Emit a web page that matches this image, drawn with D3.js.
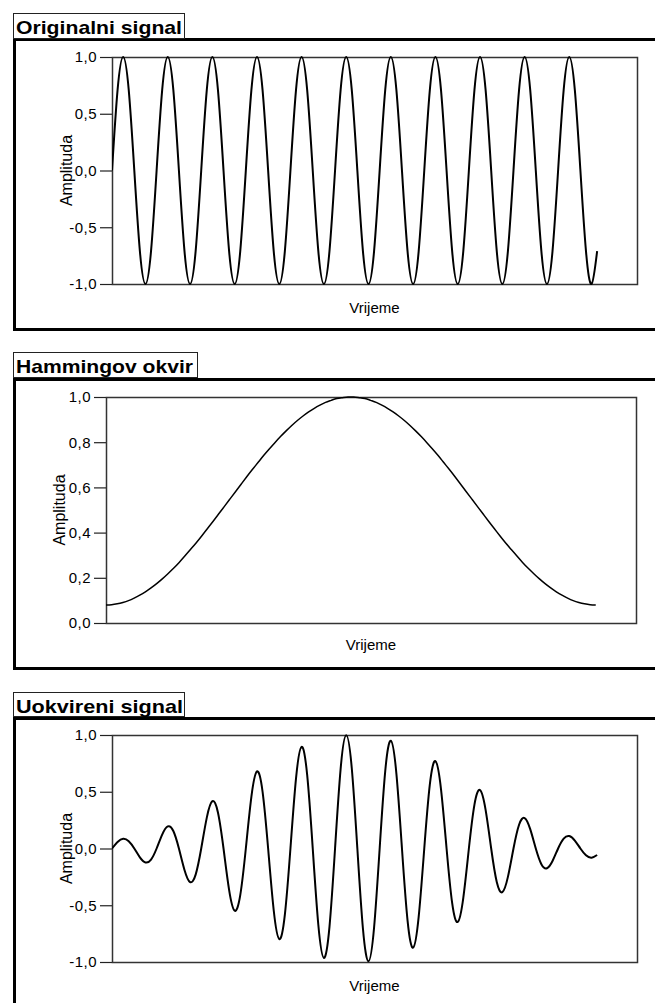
<!DOCTYPE html>
<html>
<head>
<meta charset="utf-8">
<script src="https://cdn.jsdelivr.net/npm/d3@7"></script>
<style>
  body { margin: 0; background: #fff; }
  svg { display: block; }
  text { font-family: "Liberation Sans", Arial, sans-serif; fill: #000; }
</style>
</head>
<body>
<div id="chart"></div>
<script>
// Samples (45 degree steps of the carrier)
const originalSignal = [
  0, 0.71, 1, 0.71, 0, -0.71, -1, -0.71,
  0, 0.71, 1, 0.71, 0, -0.71, -1, -0.71,
  0, 0.71, 1, 0.71, 0, -0.71, -1, -0.71,
  0, 0.71, 1, 0.71, 0, -0.71, -1, -0.71,
  0, 0.71, 1, 0.71, 0, -0.71, -1, -0.71,
  0, 0.71, 1, 0.71, 0, -0.71, -1, -0.71,
  0, 0.71, 1, 0.71, 0, -0.71, -1, -0.71,
  0, 0.71, 1, 0.71, 0, -0.71, -1, -0.71,
  0, 0.71, 1, 0.71, 0, -0.71, -1, -0.71,
  0, 0.71, 1, 0.71, 0, -0.71, -1, -0.71,
  0, 0.71, 1, 0.71, 0, -0.71, -1, -0.71
];

const hammingWindow = [
  0.080, 0.081, 0.085, 0.091, 0.099, 0.110, 0.123, 0.138,
  0.155, 0.174, 0.195, 0.218, 0.242, 0.268, 0.296, 0.325,
  0.354, 0.385, 0.417, 0.449, 0.482, 0.515, 0.548, 0.581,
  0.614, 0.647, 0.679, 0.710, 0.741, 0.770, 0.798, 0.825,
  0.850, 0.874, 0.896, 0.916, 0.934, 0.950, 0.964, 0.976,
  0.985, 0.993, 0.997, 1.000, 1.000, 0.997, 0.993, 0.985,
  0.976, 0.964, 0.950, 0.934, 0.916, 0.896, 0.874, 0.850,
  0.825, 0.798, 0.770, 0.741, 0.710, 0.679, 0.647, 0.614,
  0.581, 0.548, 0.515, 0.482, 0.449, 0.417, 0.385, 0.354,
  0.325, 0.296, 0.268, 0.242, 0.218, 0.195, 0.174, 0.155,
  0.138, 0.123, 0.110, 0.099, 0.091, 0.085, 0.081, 0.080
];

const framedSignal = [
  0, 0.057, 0.085, 0.064, 0, -0.078, -0.123, -0.098,
  0, 0.123, 0.195, 0.154, 0, -0.189, -0.296, -0.230,
  0, 0.272, 0.417, 0.317, 0, -0.364, -0.548, -0.411,
  0, 0.457, 0.679, 0.502, 0, -0.544, -0.798, -0.583,
  0, 0.618, 0.896, 0.648, 0, -0.672, -0.964, -0.690,
  0, 0.702, 0.997, 0.707, 0, -0.705, -0.993, -0.696,
  0, 0.682, 0.950, 0.660, 0, -0.633, -0.874, -0.601,
  0, 0.564, 0.770, 0.524, 0, -0.480, -0.647, -0.434,
  0, 0.387, 0.515, 0.341, 0, -0.295, -0.385, -0.250,
  0, 0.209, 0.268, 0.171, 0, -0.138, -0.174, -0.110,
  0, 0.087, 0.110, 0.070, 0, -0.060, -0.081, -0.057
];

const amplitudeTicks = [-1, -0.5, 0, 0.5, 1];
const windowTicks = [0, 0.2, 0.4, 0.6, 0.8, 1];

const panelTitles = ["Originalni signal", "Hammingov okvir", "Uokvireni signal"];
const xAxisTitle = "Vrijeme";
const yAxisTitle = "Amplituda";

const width = 655;
const height = 1003;
const xMax = 94.15; // axis runs a bit past the last sample

const hr = d3.formatLocale({ decimal: ",", thousands: ".", grouping: [3], currency: ["", ""], minus: "-" });
const tickFormat = hr.format(".1f");

const svg = d3.select("#chart")
  .append("svg")
  .attr("width", width)
  .attr("height", height);

const panels = [
  { title: panelTitles[0], values: originalSignal, ticks: amplitudeTicks, yDomain: [-1, 1],
    box: { x: 13.5, y: 13.5, w: 171, h: 25, textW: 166, base: 34 },
    frameTop: 38, frameBottom: 328,
    plot: { left: 112, top: 57, right: 637, bottom: 284 }, xLabelY: 313, yLabelX: 72, stroke: 2 },
  { title: panelTitles[1], values: hammingWindow, ticks: windowTicks, yDomain: [0, 1],
    box: { x: 13.5, y: 352.5, w: 184, h: 25, textW: 177, base: 373 },
    frameTop: 378, frameBottom: 667,
    plot: { left: 106, top: 397, right: 636, bottom: 623 }, xLabelY: 650, yLabelX: 65, stroke: 1.5 },
  { title: panelTitles[2], values: framedSignal, ticks: amplitudeTicks, yDomain: [-1, 1],
    box: { x: 13.5, y: 692.5, w: 171, h: 24, textW: 167, base: 713 },
    frameTop: 717, frameBottom: null,
    plot: { left: 112, top: 735, right: 637, bottom: 962 }, xLabelY: 991, yLabelX: 72, stroke: 2 }
];

panels.forEach((p, idx) => {
  const g = svg.append("g");

  // heavy outer frame
  g.append("rect")
    .attr("x", 13).attr("y", p.frameTop)
    .attr("width", width - 13).attr("height", 3)
    .attr("fill", "#000");
  const frameEnd = p.frameBottom === null ? height : p.frameBottom + 3;
  g.append("rect")
    .attr("x", 13).attr("y", p.frameTop)
    .attr("width", 3).attr("height", frameEnd - p.frameTop)
    .attr("fill", "#000");
  if (p.frameBottom !== null) {
    g.append("rect")
      .attr("x", 13).attr("y", p.frameBottom)
      .attr("width", width - 13).attr("height", 3)
      .attr("fill", "#000");
  }

  // title tab
  g.append("rect")
    .attr("x", p.box.x).attr("y", p.box.y)
    .attr("width", p.box.w).attr("height", p.box.h)
    .attr("fill", "#fff")
    .attr("stroke", "#222")
    .attr("stroke-width", 1);
  g.append("text")
    .attr("x", 16).attr("y", p.box.base)
    .attr("textLength", p.box.textW)
    .attr("lengthAdjust", "spacingAndGlyphs")
    .style("font-size", "19px")
    .style("font-weight", "bold")
    .text(p.title);

  const x = d3.scaleLinear()
    .domain([0, xMax])
    .range([p.plot.left, p.plot.right]);

  const y = d3.scaleLinear()
    .domain(p.yDomain)
    .range([p.plot.bottom, p.plot.top]);

  // y axis ticks and labels
  const axis = g.append("g")
    .attr("transform", `translate(${p.plot.left}, 0)`)
    .call(d3.axisLeft(y)
      .tickValues(p.ticks)
      .tickFormat(tickFormat)
      .tickSize(12)
      .tickPadding(3));
  axis.select(".domain").remove();
  axis.selectAll(".tick line").attr("stroke", "#222").attr("stroke-width", 1.2);
  axis.selectAll(".tick text")
    .style("font-size", "15px")
    .style("letter-spacing", "0.5px")
    .style("font-family", "'Liberation Sans', Arial, sans-serif")
    .attr("fill", "#000");

  // plot border
  g.append("rect")
    .attr("x", p.plot.left + 0.5).attr("y", p.plot.top + 0.5)
    .attr("width", p.plot.right - p.plot.left)
    .attr("height", p.plot.bottom - p.plot.top)
    .attr("fill", "none")
    .attr("stroke", "#333")
    .attr("stroke-width", 1.5);

  const clipId = `clip${idx}`;
  svg.append("clipPath").attr("id", clipId)
    .append("rect")
    .attr("x", p.plot.left).attr("y", p.plot.top - 1)
    .attr("width", p.plot.right - p.plot.left)
    .attr("height", p.plot.bottom - p.plot.top + 2);

  const line = d3.line()
    .x((d, i) => x(i))
    .y(d => y(d))
    .curve(d3.curveNatural);

  g.append("path")
    .datum(p.values)
    .attr("clip-path", `url(#${clipId})`)
    .attr("d", line)
    .attr("fill", "none")
    .attr("stroke", "#000")
    .attr("stroke-width", p.stroke);

  // axis titles
  g.append("text")
    .attr("x", (p.plot.left + p.plot.right) / 2)
    .attr("y", p.xLabelY)
    .attr("text-anchor", "middle")
    .style("font-size", "15px")
    .text(xAxisTitle);

  g.append("text")
    .attr("transform", `translate(${p.yLabelX}, ${(p.plot.top + p.plot.bottom) / 2}) rotate(-90)`)
    .attr("text-anchor", "middle")
    .style("font-size", "16px")
    .text(yAxisTitle);
});
</script>
</body>
</html>
